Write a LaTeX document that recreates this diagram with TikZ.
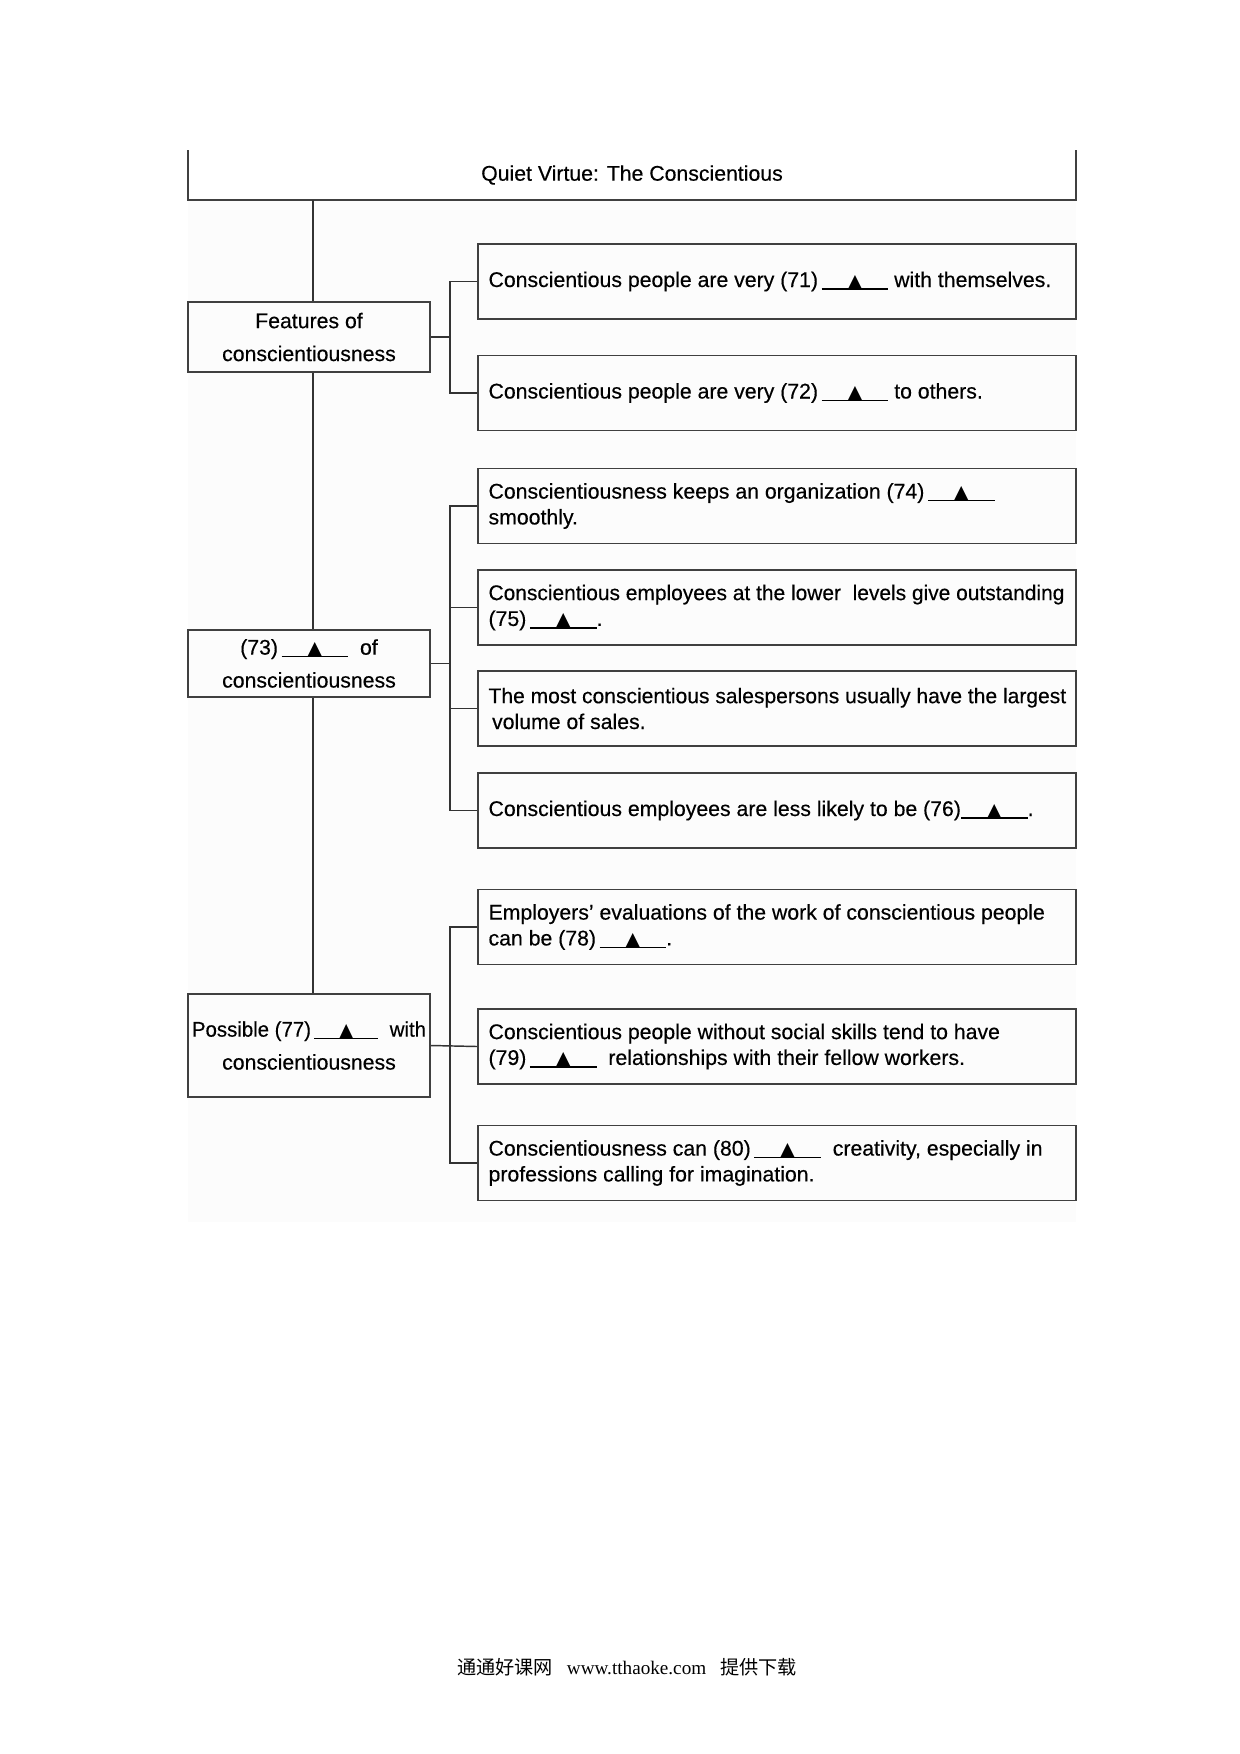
\documentclass[tikz,border=0pt]{standalone}
\usepackage{fontspec}
\setmainfont{Liberation Sans}[FakeBold=0.35]
\newfontfamily\trifont{DejaVu Sans}
\newfontfamily\cjkfont{Noto Sans CJK SC}
\newfontfamily\urlfont{Liberation Serif}
\newcommand\blank[1][32pt]{\leavevmode\rlap{\rule[-1.3pt]{#1}{0.7pt}}\makebox[#1][c]{\trifont\fontsize{9pt}{9pt}\selectfont ▲}}
\tikzset{
  box/.style={draw=black!75, line width=0.9pt, inner sep=0pt},
  rbox/.style={box, minimum width=287pt, minimum height=36pt},
  lbox/.style={box, minimum width=116.2pt},
  rtext/.style={anchor=west, align=left, inner sep=0pt},
  ltext/.style={align=center, inner sep=0pt, font=\fontsize{10.2pt}{15.8pt}\selectfont},
  link/.style={draw=black!80, line width=0.7pt}
}
\begin{document}
\begin{tikzpicture}[x=0.48pt, y=-0.48pt, font=\fontsize{10.2pt}{12.4pt}\selectfont]
\useasboundingbox (0,0) rectangle (1240,1754);
\fill[black!1] (188,200) rectangle (1076,1222);
% title box (open at top)
\coordinate (tbl) at (188,150);
\coordinate (tbr) at (1076,200);
\draw[box] (tbl) |- (tbr) -- (tbr |- tbl);
\node[inner sep=0pt] (title) at (632,175) {Quiet Virtue: The Conscientious};
\coordinate (spine) at (313,0);
% left boxes
\node[lbox, minimum height=33.6pt] (L1) at (309,337) {};
\node[ltext] (L1t) at (L1.center) {Features of\\conscientiousness};
\node[lbox, minimum height=32.2pt] (L2) at (309,663.5) {};
\node[ltext] (L2t) at (L2.center) {(73)\,\blank\ \ of\\conscientiousness};
\node[lbox, minimum height=49.4pt] (L3) at (309,1045.5) {};
\node[ltext] (L3t) at (L3.center) {\scalebox{0.96}[1]{Possible (77)\,\blank\ \ with}\\conscientiousness};
% spine
\draw[link] (tbr -| spine) -- (L1.north -| spine);
\draw[link] (L1.south -| spine) -- (L2.north -| spine);
\draw[link] (L2.south -| spine) -- (L3.north -| spine);
% right boxes
\node[rbox] (R1) at (777,281.5) {};
\node[rtext] (R1t) at ([xshift=5.3pt]R1.west) {Conscientious people are very (71)\,\blank\ with themselves.};
\node[rbox] (R2) at (777,393) {};
\node[rtext] (R2t) at ([xshift=5.3pt]R2.west) {Conscientious people are very (72)\,\blank\ to others.};
\node[rbox] (R3) at (777,506) {};
\node[rtext] (R3t) at ([xshift=5.3pt]R3.west) {Conscientiousness keeps an organization (74)\,\blank\\smoothly.};
\node[rbox] (R4) at (777,607.5) {};
\node[rtext] (R4t) at ([xshift=5.3pt]R4.west) {\scalebox{0.985}[1]{Conscientious employees at the lower \ levels give outstanding}\\(75)\,\blank.};
\node[rbox] (R5) at (777,708.5) {};
\node[rtext] (R5t) at ([xshift=5.3pt]R5.west) {\scalebox{0.99}[1]{The most conscientious salespersons usually have the largest}\\\,volume of sales.};
\node[rbox] (R6) at (777,810.5) {};
\node[rtext] (R6t) at ([xshift=5.3pt]R6.west) {Conscientious employees are less likely to be (76)\blank.};
\node[rbox] (R7) at (777,927) {};
\node[rtext] (R7t) at ([xshift=5.3pt]R7.west) {Employers’ evaluations of the work of conscientious people\\can be (78)\,\blank.};
\node[rbox] (R8) at (777,1046.5) {};
\node[rtext] (R8t) at ([xshift=5.3pt]R8.west) {Conscientious people without social skills tend to have\\(79)\,\blank\ \ relationships with their fellow workers.};
\node[rbox] (R9) at (777,1163) {};
\node[rtext] (R9t) at ([xshift=5.3pt]R9.west) {Conscientiousness can (80)\,\blank\ \ creativity, especially in\\professions calling for imagination.};
% brackets
\coordinate (bx) at (450,0);
\draw[link] (L1.east) -- (L1.east -| bx) coordinate (j1);
\draw[link] (R1.west) -| (j1) |- (R2.west);
\draw[link] (L2.east) -- (L2.east -| bx) coordinate (j2);
\draw[link] (R3.west) -| (j2) |- (R6.west);
\draw[link] (R4.west) -- (R4.west -| bx);
\draw[link] (R5.west) -- (R5.west -| bx);
\draw[link] (L3.east) -- (R8.west);
\draw[link] (R7.west) -| (L3.east -| bx) |- (R9.west);
% footer
\node[inner sep=0pt] (foot) at (627,1667) {\fontsize{9.2pt}{10pt}\selectfont\cjkfont 通通好课网\enspace\ {\urlfont www.tthaoke.com}\enspace\ 提供下载};
\end{tikzpicture}
\end{document}
